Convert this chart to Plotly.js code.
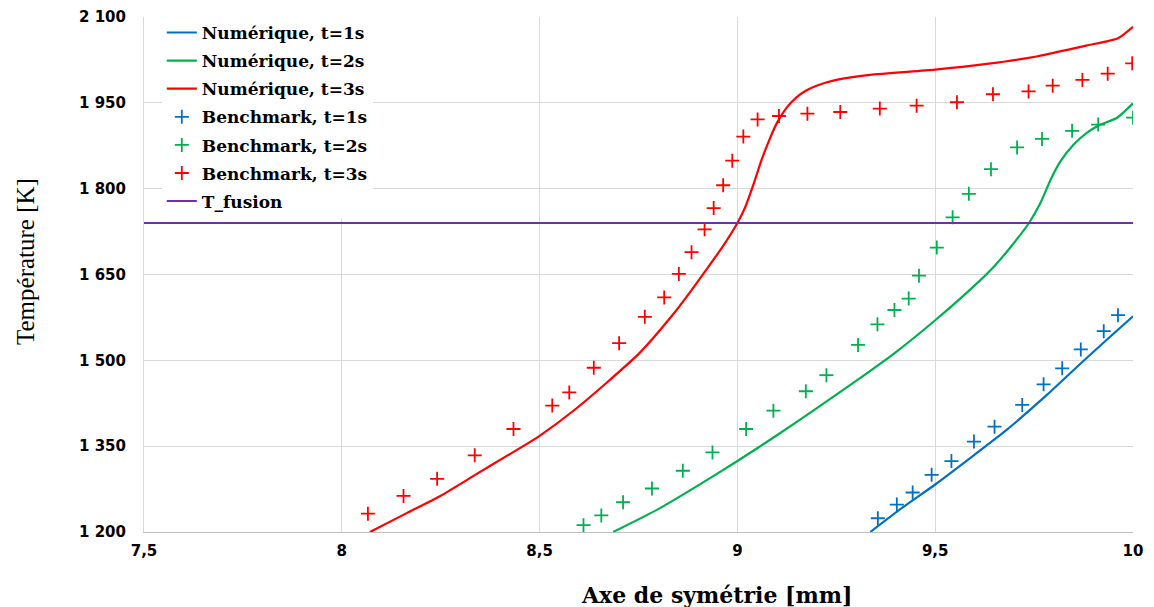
<!DOCTYPE html>
<html>
<head>
<meta charset="utf-8">
<script src="https://cdn.plot.ly/plotly-3.0.1.min.js"></script>
<style>html,body{margin:0;padding:0;background:#fff}</style>
</head>
<body>
<div id="chart" style="width:1154px;height:607px"></div>
<script>
// ---- Data ----
const num1X = [9.336, 9.416, 9.5, 9.59, 9.678, 9.783, 9.867, 9.94, 10.0];
const num1Y = [1200, 1242, 1283, 1330, 1377, 1440, 1494, 1540, 1577];

const num2X = [8.686, 8.8, 8.9, 9.0, 9.1, 9.2, 9.3, 9.4, 9.5, 9.6, 9.65, 9.7, 9.737, 9.766, 9.792, 9.817, 9.85, 9.884, 9.918, 9.96, 10.0];
const num2Y = [1200, 1240, 1281, 1324, 1369, 1416, 1464, 1514, 1570, 1631, 1665, 1706, 1740, 1775, 1816, 1848, 1877, 1898, 1912, 1924, 1949];

const num3X = [8.071, 8.164, 8.249, 8.333, 8.417, 8.468, 8.5, 8.584, 8.668, 8.753, 8.837, 8.879, 8.922, 8.964, 9.0, 9.02, 9.04, 9.06, 9.08, 9.1, 9.125, 9.15, 9.175, 9.2, 9.25, 9.335, 9.5, 9.63, 9.756, 9.882, 9.962, 10.0];
const num3Y = [1200, 1233, 1263, 1298, 1333, 1354, 1368, 1411, 1460, 1513, 1580, 1618, 1659, 1700, 1740, 1768, 1806, 1848, 1884, 1915, 1942, 1960, 1972, 1980, 1990, 1999, 2008, 2018, 2031, 2050, 2063, 2083];

const bench1X = [9.355, 9.403, 9.443, 9.491, 9.541, 9.598, 9.650, 9.720, 9.774, 9.821, 9.868, 9.926, 9.962];
const bench1Y = [1224, 1248, 1269, 1300, 1324, 1358, 1384, 1422, 1458, 1486, 1519, 1551, 1579];

const bench2X = [8.611, 8.656, 8.711, 8.784, 8.862, 8.937, 9.022, 9.091, 9.173, 9.225, 9.305, 9.354, 9.397, 9.433, 9.459, 9.504, 9.544, 9.585, 9.641, 9.707, 9.770, 9.846, 9.912, 10.0];
const bench2Y = [1212, 1229, 1252, 1276, 1307, 1339, 1380, 1412, 1446, 1474, 1527, 1563, 1588, 1608, 1648, 1697, 1750, 1791, 1834, 1872, 1887, 1901, 1912, 1924];

const bench3X = [8.066, 8.156, 8.241, 8.336, 8.434, 8.532, 8.575, 8.637, 8.701, 8.766, 8.815, 8.852, 8.884, 8.917, 8.940, 8.964, 8.987, 9.015, 9.051, 9.105, 9.177, 9.260, 9.360, 9.453, 9.555, 9.646, 9.736, 9.797, 9.872, 9.936, 9.998];
const bench3Y = [1232, 1263, 1293, 1334, 1380, 1421, 1444, 1487, 1530, 1576, 1610, 1651, 1689, 1729, 1766, 1806, 1849, 1891, 1921, 1927, 1931, 1934, 1940, 1945, 1951, 1965, 1970, 1980, 1990, 2001, 2019];

const fusionX = [7.5, 10];
const fusionY = [1740, 1740];

const seriesNames = ['Numérique, t=1s', 'Numérique, t=2s', 'Numérique, t=3s',
                     'Benchmark, t=1s', 'Benchmark, t=2s', 'Benchmark, t=3s', 'T_fusion'];

const xTickVals = [7.5, 8, 8.5, 9, 9.5, 10];
const xTickText = ['7,5', '8', '8,5', '9', '9,5', '10'];
const yTickVals = [1200, 1350, 1500, 1650, 1800, 1950, 2100];
const yTickText = ['1 200', '1 350', '1 500', '1 650', '1 800', '1 950', '2 100'];

const xTitle = 'Axe de symétrie [mm]';
const yTitle = 'Température [K]';

// ---- Styles ----
const BLUE = '#0070C0', GREEN = '#00B050', RED = '#FF0000', PURPLE = '#7030A0';

function lineTrace(x, y, name, color, g) {
  return {x: x, y: y, name: name, type: 'scatter', mode: 'lines', legendgroup: g,
          line: {color: color, width: 2.2, shape: 'spline', smoothing: 0.6}};
}
function markTrace(x, y, name, color, g) {
  return {x: x, y: y, name: name, type: 'scatter', mode: 'markers', legendgroup: g,
          marker: {symbol: 'cross-thin', size: 10, color: color, line: {color: color, width: 1.8}}};
}

const data = [
  lineTrace(num1X, num1Y, seriesNames[0], BLUE, 'g1'),
  lineTrace(num2X, num2Y, seriesNames[1], GREEN, 'g2'),
  lineTrace(num3X, num3Y, seriesNames[2], RED, 'g3'),
  markTrace(bench1X, bench1Y, seriesNames[3], BLUE, 'g4'),
  markTrace(bench2X, bench2Y, seriesNames[4], GREEN, 'g5'),
  markTrace(bench3X, bench3Y, seriesNames[5], RED, 'g6'),
  {x: fusionX, y: fusionY, name: seriesNames[6], type: 'scatter', mode: 'lines', legendgroup: 'g7',
   line: {color: PURPLE, width: 2}}
];

const tickFont = {family: 'DejaVu Sans', size: 15, weight: 'bold', color: '#000'};

const layout = {
  width: 1154, height: 607,
  margin: {l: 144, r: 21, t: 17, b: 75, pad: 0},
  paper_bgcolor: '#fff', plot_bgcolor: '#fff',
  showlegend: true,
  xaxis: {
    range: [7.5, 10], tickmode: 'array', tickvals: xTickVals, ticktext: xTickText,
    showgrid: true, gridcolor: '#d9d9d9', gridwidth: 1, zeroline: false,
    showline: true, linecolor: '#bfbfbf', linewidth: 1,
    ticks: '', tickfont: tickFont, ticklabelstandoff: 5
  },
  yaxis: {
    range: [1200, 2100], tickmode: 'array', tickvals: yTickVals, ticktext: yTickText,
    showgrid: true, gridcolor: '#d9d9d9', gridwidth: 1, zeroline: false,
    showline: true, linecolor: '#d9d9d9', linewidth: 1,
    ticks: '', tickfont: tickFont, ticklabelstandoff: 14
  },
  legend: {
    x: 0.018, y: 1.004, xanchor: 'left', yanchor: 'top',
    bgcolor: '#fff', borderwidth: 0,
    font: {family: 'DejaVu Serif', size: 17, weight: 'bold', color: '#000'},
    tracegroupgap: 3, itemwidth: 30, traceorder: 'grouped'
  },
  annotations: [
    {text: xTitle, xref: 'paper', yref: 'paper', x: (716 - 144) / 989, y: -(595 - 532) / 515,
     xanchor: 'center', yanchor: 'middle', showarrow: false,
     font: {family: 'DejaVu Serif', size: 22, weight: 'bold', color: '#000'}},
    {text: yTitle, xref: 'paper', yref: 'paper', x: (25 - 144) / 989, y: (532 - 262) / 515,
     xanchor: 'center', yanchor: 'middle', showarrow: false, textangle: -90,
     font: {family: 'Liberation Serif', size: 25, color: '#000'}}
  ]
};

Plotly.newPlot('chart', data, layout, {displayModeBar: false, staticPlot: true});
</script>
</body>
</html>
